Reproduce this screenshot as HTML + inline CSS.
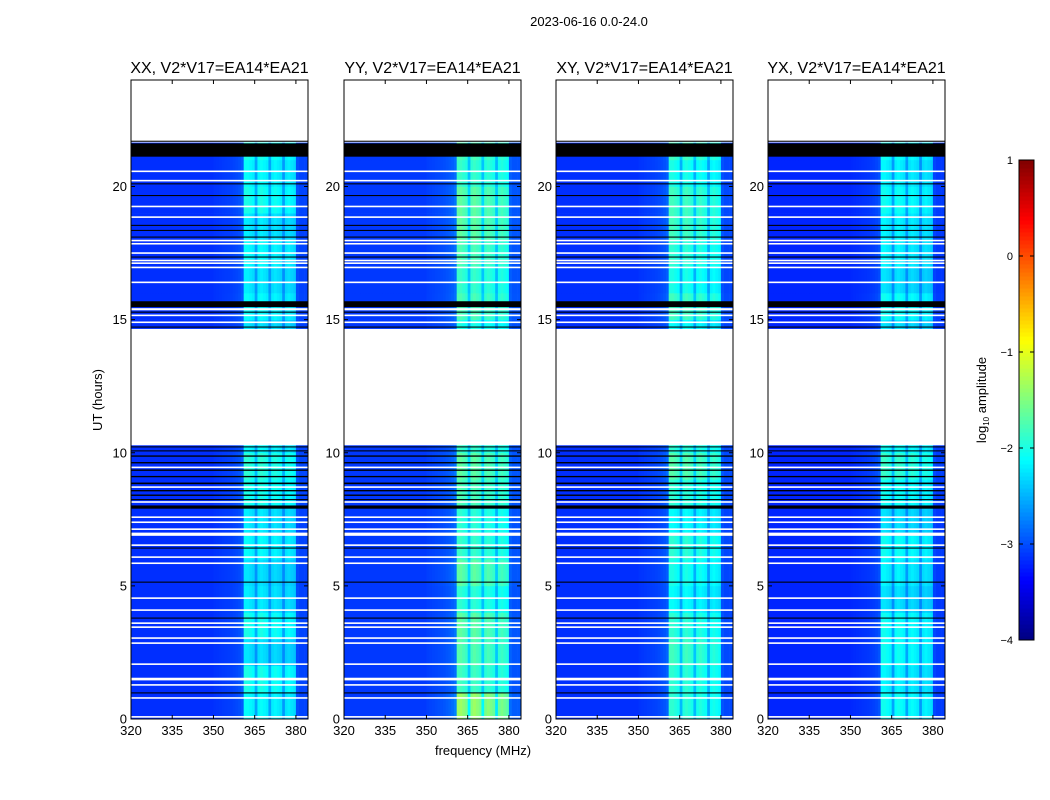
<!DOCTYPE html>
<html><head><meta charset="utf-8">
<style>
html,body{margin:0;padding:0;background:#fff;}
svg{display:block;font-family:"Liberation Sans",sans-serif;}
</style></head>
<body>
<svg id="fig" width="1050" height="800" viewBox="0 0 1050 800">
<text x="589" y="26" font-size="13" text-anchor="middle">2023-06-16 0.0-24.0</text>
<text transform="translate(102,400) rotate(-90)" font-size="13" text-anchor="middle">UT (hours)</text>
<text x="483" y="755" font-size="13" text-anchor="middle">frequency (MHz)</text>
<g id="panels"></g>
<g id="cbar"></g>
</svg>
<script>
// ---- data ----
const panelTitles = ["XX, V2*V17=EA14*EA21","YY, V2*V17=EA14*EA21","XY, V2*V17=EA14*EA21","YX, V2*V17=EA14*EA21"];
const freqStart = 320, freqStep = 1;
// band shape per 1 MHz channel, 320..383 MHz
const bandProfile = [
 0,0,0,0,0,0,0,0,0,0, 0,0,0,0,0,0,0,0,0,0,
 0,0,0,0,0,0,0,0,0,0, 0.02,0.03,0.04,0.05,0.06,0.07,0.08,0.1,0.12,0.15,
 0.2,
 1,1,0.95,0.9, 0.55,
 0.95,1,0.95,0.9, 0.55,
 0.9,0.95,0.9,0.85, 0.5,
 0.85,0.9,0.85,0.8,
 0.15,0.1,0.1,0.1
];
// background log amplitude per panel
const bgLevel = [-3.15,-3.1,-3.15,-3.2];
// band boost per panel, per hour 0..23
const bandBoostXX = [1.05,1.15,0.9,1.15,0.95,0.9,1.05,0.95,1.15,1.25,1.05,0.9,0.9,0.9,0.9,1.05,0.95,1.05,0.95,1.15,1.05,1.15,1.05,1.05];
const bandBoostYY = [1.75,1.3,1.4,1.45,1.2,1.45,1.25,1.2,1.35,1.45,1.25,1.1,1.1,1.1,1.1,1.35,1.25,1.35,1.45,1.45,1.25,1.35,1.25,1.25];
const bandBoostXY = [1.25,1.25,1.35,1.25,1.05,1.15,1.25,1.05,1.25,1.45,1.25,1.05,1.05,1.05,1.05,1.35,1.15,1.25,1.35,1.35,1.15,1.35,1.25,1.25];
const bandBoostYX = [1.15,1.05,1.15,1.15,0.95,1.05,1.15,0.95,1.15,1.35,1.15,0.95,0.95,0.95,0.95,1.15,0.95,1.05,1.05,1.15,1.05,1.15,1.05,1.05];
const bandBoost = [bandBoostXX,bandBoostYY,bandBoostXY,bandBoostYX];
// flagged (blank) time ranges, hours
const whiteFlags = [[21.65,24],[10.28,14.65],[15.35,15.43],[15.13,15.19],[14.87,14.93],
 [20.54,20.6],[20.19,20.25],[19.22,19.28],[18.82,18.88],[17.94,18.0],[17.82,17.88],[17.47,17.53],[17.19,17.25],[17.09,17.15],[16.93,16.99],[16.37,16.43],
 [9.42,9.48],[8.68,8.74],[8.12,8.18],[7.55,7.61],[7.36,7.42],[7.1,7.16],[6.88,7.0],[6.5,6.56],[6.05,6.11],[5.82,5.88],[4.51,4.57],[4.06,4.12],[3.57,3.63],[3.42,3.48],[3.01,3.07],[2.82,2.88],[2.03,2.09],[1.45,1.55],[1.25,1.31],[0.76,0.82],[0.05,0.11]];
const blackFlags = [[21.12,21.62],[21.68,21.72],[15.47,15.69],[15.26,15.3],[14.7,14.74],
 [20.08,20.12],[19.64,19.68],[18.52,18.56],[18.33,18.37],[18.08,18.12],[17.33,17.37],
 [10.2,10.24],[10.05,10.09],[9.85,9.9],[9.6,9.65],[9.32,9.37],[9.08,9.13],[8.82,8.88],[8.55,8.6],[8.38,8.43],[8.22,8.26],[7.9,8.02],
 [6.4,6.44],[5.12,5.16],[3.77,3.81],[0.96,1.0]];
const yTicks = [0,5,10,15,20];
const xTicks = [320,335,350,365,380];
const cbTicks = [1,0,-1,-2,-3,-4];
const cbTickLabels = ["1","0","\u22121","\u22122","\u22123","\u22124"];

// ---- layout ----
const NS = "http://www.w3.org/2000/svg";
const panelX = [131,344,556,768], panelW = 177, plotTop = 80, plotBot = 719;
const tMin=0,tMax=24,fMin=320,fMax=384.4;
function yScale(t){return plotBot-(t-tMin)/(tMax-tMin)*(plotBot-plotTop);}
function mk(tag,attrs,parent){const e=document.createElementNS(NS,tag);for(const k in attrs)e.setAttribute(k,attrs[k]);parent.appendChild(e);return e;}
function jet(v){
 let t=(v+4)/5; t=Math.max(0,Math.min(1,t));
 const c=x=>Math.max(0,Math.min(1,x));
 const r=c(Math.min(4*t-1.5,-4*t+4.5)), g=c(Math.min(4*t-0.5,-4*t+3.5)), b=c(Math.min(4*t+0.5,-4*t+2.5));
 return `rgb(${Math.round(r*255)},${Math.round(g*255)},${Math.round(b*255)})`;
}
const root=document.getElementById('panels');
panelX.forEach((px,p)=>{
 const xScale=f=>px+(f-fMin)/(fMax-fMin)*panelW;
 const g=mk('g',{},root);
 
 
 const hm=mk('g',{},g);
 
 
 for(let h=0;h<24;h++){
  for(let c=0;c<bandProfile.length;c++){
   const f0=freqStart+c*freqStep, f1=f0+freqStep;
   const v=bgLevel[p]+bandProfile[c]*bandBoost[p][h];
   const x0=xScale(f0), x1=(c===bandProfile.length-1)?px+panelW:Math.min(xScale(f1),px+panelW);
   const r=mk('rect',{x:x0,y:yScale(h+1),width:x1-x0+0.3,height:yScale(h)-yScale(h+1)+0.3,fill:jet(v)},hm);
   
   
  }
 }
 whiteFlags.forEach(w=>{const r=mk('rect',{x:px,y:yScale(w[1]),width:panelW,height:yScale(w[0])-yScale(w[1]),fill:'#fff'},g);
  });
 blackFlags.forEach(w=>{const r=mk('rect',{x:px,y:yScale(w[1]),width:panelW,height:Math.max(1,yScale(w[0])-yScale(w[1])),fill:'#000'},g);
  });
 const fr=mk('rect',{x:px,y:plotTop,width:panelW,height:plotBot-plotTop,fill:'none',stroke:'#000','stroke-width':1},g);
 
 const tt=mk('text',{x:px+panelW/2,y:73,'font-size':16,'text-anchor':'middle'},g);
 tt.textContent=panelTitles[p];
 
 yTicks.forEach(t=>{const y=yScale(t);
  mk('line',{x1:px,x2:px+4,y1:y,y2:y,stroke:'#000'},g);mk('line',{x1:px+panelW-4,x2:px+panelW,y1:y,y2:y,stroke:'#000'},g);
  const l=mk('text',{x:px-4,y:y+4.5,'font-size':13,'text-anchor':'end'},g);l.textContent=t;
  });
 xTicks.forEach(f=>{const x=xScale(f);
  mk('line',{x1:x,x2:x,y1:plotBot,y2:plotBot-4,stroke:'#000'},g);mk('line',{x1:x,x2:x,y1:plotTop,y2:plotTop+4,stroke:'#000'},g);
  const l=mk('text',{x:x,y:plotBot+16,'font-size':13,'text-anchor':'middle'},g);l.textContent=f;
  });
});
// colorbar
const cb=document.getElementById('cbar');
const cbX=1019,cbW=15,cbTop=160,cbBot=640;
const cbY=v=>cbBot-(v+4)/5*(cbBot-cbTop);
for(let i=0;i<120;i++){const v0=-4+i*5/120,v1=v0+5/120;
 const r=mk('rect',{x:cbX,y:cbY(v1),width:cbW,height:cbY(v0)-cbY(v1)+0.5,fill:jet((v0+v1)/2)},cb);
 }
mk('rect',{x:cbX,y:cbTop,width:cbW,height:cbBot-cbTop,fill:'none',stroke:'#000'},cb);
cbTicks.forEach((v,i)=>{const y=cbY(v);
 mk('line',{x1:cbX,x2:cbX+4,y1:y,y2:y,stroke:'#000'},cb);mk('line',{x1:cbX+cbW-4,x2:cbX+cbW,y1:y,y2:y,stroke:'#000'},cb);
 const l=mk('text',{x:1013,y:y+4,'font-size':11,'text-anchor':'end'},cb);l.textContent=cbTickLabels[i];
 });
const cl=mk('text',{transform:'translate(986,400) rotate(-90)','font-size':13,'text-anchor':'middle'},cb);
cl.innerHTML='log<tspan font-size="8" dy="3">10</tspan><tspan dy="-3"> amplitude</tspan>';

</script>
</body></html>
